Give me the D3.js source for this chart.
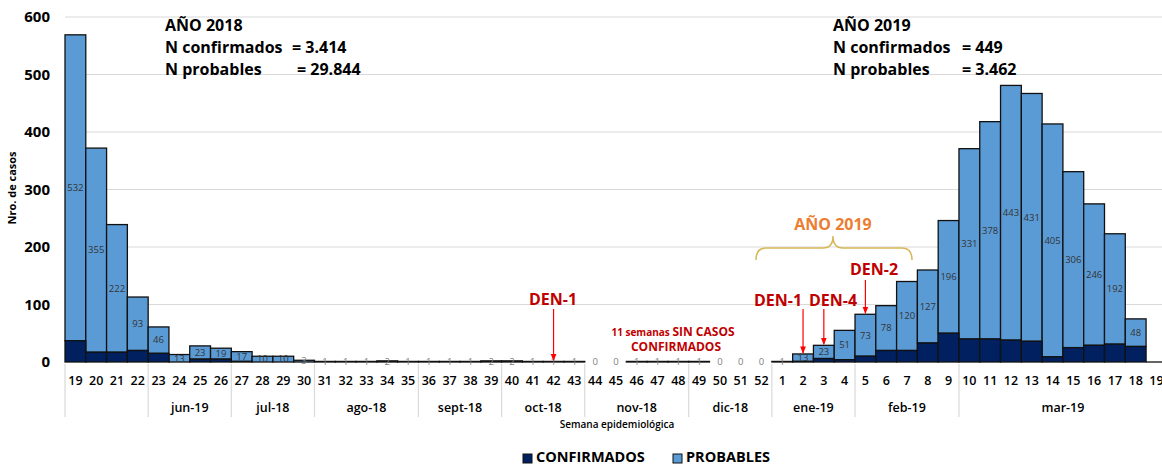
<!DOCTYPE html>
<html><head><meta charset="utf-8">
<script src="https://cdn.jsdelivr.net/npm/d3@7"></script>
<style>
body{margin:0;background:#fff;}
svg{display:block;font-family:"Open Sans",sans-serif;}
</style></head><body>
<svg id="c" width="1162" height="465"></svg>
<script>
const weeks = [19,20,21,22,23,24,25,26,27,28,29,30,31,32,33,34,35,36,37,38,39,40,41,42,43,44,45,46,47,48,49,50,51,52,1,2,3,4,5,6,7,8,9,10,11,12,13,14,15,16,17,18,19];
const confirmados = [37,17,17,20,15,0,5,5,1,0,0,0,0,0,0,0,0,0,0,0,0,0,0,0,0,0,0,0,0,0,0,0,0,0,0,1,6,4,10,20,20,33,50,40,40,38,36,9,25,29,31,27,0];
const probables = [532,355,222,93,46,13,23,19,17,10,10,3,1,1,1,2,1,1,1,1,2,2,1,1,1,0,0,1,1,1,1,0,0,0,1,13,23,51,73,78,120,127,196,331,378,443,431,405,306,246,192,48,0];
const months = [
  {label:"", from:0, to:3},
  {label:"jun-19", from:4, to:7},
  {label:"jul-18", from:8, to:11},
  {label:"ago-18", from:12, to:16},
  {label:"sept-18", from:17, to:20},
  {label:"oct-18", from:21, to:24},
  {label:"nov-18", from:25, to:29},
  {label:"dic-18", from:30, to:33},
  {label:"ene-19", from:34, to:37},
  {label:"feb-19", from:38, to:42},
  {label:"mar-19", from:43, to:52}
];
const yTicks = [0,100,200,300,400,500,600];
const seriesNames = ["CONFIRMADOS","PROBABLES"];
const colors = {conf:"#002060", prob:"#5B9BD5"};

const svg = d3.select("#c");
const x = d3.scaleBand().domain(d3.range(weeks.length)).range([65, 65 + 20.79*weeks.length]).padding(0);
const y = d3.scaleLinear().domain([0,600]).range([362,17]);
const bw = x.bandwidth();

// gridlines
svg.append("g").selectAll("line").data(yTicks.filter(d=>d>0)).join("line")
  .attr("x1",65).attr("x2",1162).attr("y1",d=>y(d)).attr("y2",d=>y(d))
  .attr("stroke","#d9d9d9").attr("stroke-width",1.2);

// y tick labels
svg.append("g").selectAll("text").data(yTicks).join("text")
  .attr("x",50).attr("y",d=>y(d)).attr("dy","0.35em").attr("text-anchor","end")
  .attr("font-size",15).attr("font-weight",700).attr("fill","#000").text(d=>d);

// y axis title
svg.append("text").attr("transform","translate(16,188) rotate(-90)").attr("text-anchor","middle")
  .attr("font-size",11).attr("font-weight",700).text("Nro. de casos");

// bars
const data = weeks.map((w,i)=>({i, w, c:confirmados[i], p:probables[i]}));
const bars = data.filter(d=>d.c+d.p>0);
svg.append("g").selectAll("rect").data(bars).join("rect")
  .attr("x",d=>x(d.i)).attr("width",bw)
  .attr("y",d=>y(d.c+d.p)).attr("height",d=>y(d.c)-y(d.c+d.p))
  .attr("fill",colors.prob).attr("stroke","#111").attr("stroke-width",1.3);
svg.append("g").selectAll("rect").data(bars.filter(d=>d.c>0)).join("rect")
  .attr("x",d=>x(d.i)).attr("width",bw)
  .attr("y",d=>y(d.c)).attr("height",d=>y(0)-y(d.c))
  .attr("fill",colors.conf).attr("stroke","#111").attr("stroke-width",1.3);
// trailing empty week baseline
const last = data[data.length-1];
svg.append("line").attr("x1",x(last.i)).attr("x2",x(last.i)+bw).attr("y1",y(0)).attr("y2",y(0))
  .attr("stroke","#111").attr("stroke-width",1.3);

// value labels (probables)
svg.append("g").selectAll("text").data(data.slice(0,-1)).join("text")
  .attr("x",d=>x(d.i)+bw/2).attr("y",d=>(y(d.c)+y(d.c+d.p))/2).attr("dy","0.35em")
  .attr("text-anchor","middle").attr("font-size",9.5).attr("fill",d=>d.p<=3?"#7f7f7f":"#333")
  .text(d=>d.p);

// x week labels
svg.append("g").selectAll("text").data(data).join("text")
  .attr("x",d=>x(d.i)+bw/2).attr("y",381).attr("dy","0.35em").attr("text-anchor","middle")
  .attr("font-size",12.5).attr("font-weight",600).attr("fill","#000").text(d=>d.w);

// month separators
const seps = months.map(m=>m.from);
svg.append("g").selectAll("line").data(seps).join("line")
  .attr("x1",d=>x(d)).attr("x2",d=>x(d))
  .attr("y1",364).attr("y2",417).attr("stroke","#d9d9d9").attr("stroke-width",1.2);
svg.append("g").selectAll("text").data(months).join("text")
  .attr("x",m=>(x(m.from)+x(m.to)+bw)/2).attr("y",408).attr("dy","0.35em").attr("text-anchor","middle")
  .attr("font-size",12.5).attr("font-weight",600).text(m=>m.label);

svg.append("text").attr("x",617).attr("y",424).attr("dy","0.35em").attr("text-anchor","middle")
  .attr("font-size",10).attr("font-weight",600).text("Semana epidemiológica");

// legend
const leg = svg.append("g");
[{n:seriesNames[0],c:colors.conf,x:523},{n:seriesNames[1],c:colors.prob,x:673}].forEach(l=>{
  leg.append("rect").attr("x",l.x).attr("y",454).attr("width",9).attr("height",9).attr("fill",l.c).attr("stroke","#111").attr("stroke-width",1);
  leg.append("text").attr("x",l.x+13).attr("y",457).attr("dy","0.35em").attr("font-size",14.5).attr("font-weight",700).text(l.n);
});

// annotations: year totals
function block(x0, eqX, lines){
  lines.forEach((l,k)=>{
    svg.append("text").attr("x",x0).attr("y",25+k*22).attr("dy","0.35em").attr("font-size",16).attr("font-weight",700).text(l[0]);
    if(l[1]) svg.append("text").attr("x",eqX[k-1]).attr("y",25+k*22).attr("dy","0.35em").attr("font-size",16).attr("font-weight",700).text(l[1]);
  });
}
block(165, [292,297], [["AÑO 2018"],["N confirmados","= 3.414"],["N probables","= 29.844"]]);
block(833, [962,962], [["AÑO 2019"],["N confirmados","= 449"],["N probables","= 3.462"]]);

// orange year + brace
svg.append("text").attr("x",833).attr("y",224).attr("dy","0.35em").attr("text-anchor","middle")
  .attr("font-size",16).attr("font-weight",700).attr("fill","#ED7D31").text("AÑO 2019");
svg.append("path").attr("d","M756,260 Q756,248 766,248 L823,248 Q833,248 833,236 Q833,248 843,248 L902,248 Q912,248 912,260")
  .attr("fill","none").attr("stroke","#D6B656").attr("stroke-width",1.5);

// red annotations
const red = "#C00000";
const defs = svg.append("defs");
defs.append("marker").attr("id","ah").attr("viewBox","0 0 10 10").attr("refX",9).attr("refY",5)
  .attr("markerWidth",6).attr("markerHeight",6).attr("orient","auto")
  .append("path").attr("d","M0,1 L10,5 L0,9 z").attr("fill","#FF0000");
function den(label, tx, ty, idx, ay0){
  svg.append("text").attr("x",tx).attr("y",ty).attr("dy","0.35em").attr("text-anchor","middle")
    .attr("font-size",16).attr("font-weight",700).attr("fill",red).text(label);
  const d = data[idx];
  svg.append("line").attr("x1",x(idx)+bw/2).attr("x2",x(idx)+bw/2).attr("y1",ay0).attr("y2",y(d.c+d.p)-1)
    .attr("stroke","#FF0000").attr("stroke-width",1.2).attr("marker-end","url(#ah)");
}
den("DEN-1", 553, 299, weeks.indexOf(42), 309);
den("DEN-1", 778, 300, 35, 309);
den("DEN-4", 833, 300, 36, 309);
den("DEN-2", 874, 269, 38, 280);

const t1 = svg.append("text").attr("x",673).attr("y",330).attr("dy","0.35em").attr("text-anchor","middle").attr("fill",red).attr("font-weight",700);
t1.append("tspan").attr("font-size",10).text("11 semanas ");
t1.append("tspan").attr("font-size",12).text("SIN CASOS");
svg.append("text").attr("x",676).attr("y",347).attr("dy","0.35em").attr("text-anchor","middle").attr("fill",red)
  .attr("font-weight",700).attr("font-size",12).text("CONFIRMADOS");
</script>
</body></html>
